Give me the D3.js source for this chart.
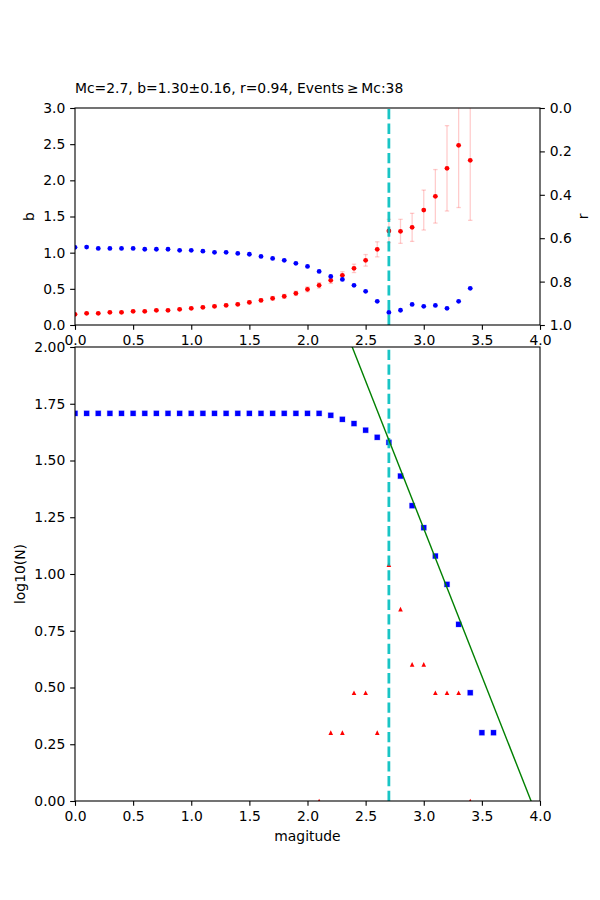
<!DOCTYPE html>
<html><head><meta charset="utf-8">
<script src="https://cdn.jsdelivr.net/npm/d3@7"></script>
<style>
body{margin:0;background:#fff}
svg{display:block}
text{font-family:"DejaVu Sans",sans-serif;font-size:13.9px;fill:#000}
</style>
</head><body><svg id="c" width="600" height="900"></svg>
<script>
// ---------- data ----------
const titleText = "Mc=2.7, b=1.30\u00b10.16, r=0.94, Events\u2009\u2265\u2009Mc:38";
const mc = 2.7;
const magsTop = [0.0,0.1,0.2,0.3,0.4,0.5,0.6,0.7,0.8,0.9,1.0,1.1,1.2,1.3,1.4,1.5,1.6,1.7,1.8,1.9,2.0,2.1,2.2,2.3,2.4,2.5,2.6,2.7,2.8,2.9,3.0,3.1,3.2,3.3,3.4];
const bValues = [0.147,0.161,0.161,0.175,0.175,0.189,0.189,0.203,0.203,0.217,0.230,0.244,0.258,0.272,0.286,0.313,0.341,0.369,0.396,0.438,0.493,0.548,0.618,0.687,0.783,0.894,1.046,1.300,1.295,1.350,1.589,1.779,2.166,2.484,2.277];
const bErrors = [0.010,0.010,0.010,0.011,0.011,0.012,0.012,0.013,0.013,0.014,0.015,0.016,0.017,0.018,0.019,0.021,0.023,0.025,0.027,0.030,0.034,0.038,0.043,0.050,0.058,0.080,0.104,0.160,0.166,0.194,0.276,0.370,0.590,0.860,0.830];
const rValues = [0.642,0.641,0.647,0.647,0.647,0.647,0.651,0.651,0.651,0.656,0.656,0.660,0.665,0.665,0.670,0.674,0.684,0.693,0.702,0.716,0.730,0.753,0.776,0.790,0.817,0.845,0.891,0.942,0.932,0.905,0.914,0.910,0.923,0.891,0.831];

const magsCum = [0.0,0.1,0.2,0.3,0.4,0.5,0.6,0.7,0.8,0.9,1.0,1.1,1.2,1.3,1.4,1.5,1.6,1.7,1.8,1.9,2.0,2.1,2.2,2.3,2.4,2.5,2.6,2.7,2.8,2.9,3.0,3.1,3.2,3.3,3.4,3.5,3.6];
const cumCounts = [51,51,51,51,51,51,51,51,51,51,51,51,51,51,51,51,51,51,51,51,51,51,50,48,46,43,40,38,27,20,16,12,9,6,3,2,2];
const magsInc = [2.1,2.2,2.3,2.4,2.5,2.6,2.7,2.8,2.9,3.0,3.1,3.2,3.3,3.4,3.6];
const incCounts = [1,2,2,3,3,2,11,7,4,4,3,3,3,1,2];
const fitA = 5.10, fitB = 1.30;

const xTicks = [0,0.5,1,1.5,2,2.5,3,3.5,4];
const bTicks = [0,0.5,1,1.5,2,2.5,3];
const rTicks = [0,0.2,0.4,0.6,0.8,1.0];
const nTicks = [0,0.25,0.5,0.75,1,1.25,1.5,1.75,2];

// ---------- layout ----------
const L = 75, R = 540;
const top1 = 108, bot1 = 325;
const top2 = 347, bot2 = 801;
const tickLen = 4.86, tickPad = 4.9;

const svg = d3.select("#c");
const defs = svg.append("defs");
defs.append("clipPath").attr("id","clip1").append("rect").attr("x",L).attr("y",top1).attr("width",R-L).attr("height",bot1-top1);
defs.append("clipPath").attr("id","clip2").append("rect").attr("x",L).attr("y",top2).attr("width",R-L).attr("height",bot2-top2);

const x = d3.scaleLinear().domain([0,4]).range([L,R]);
const yb = d3.scaleLinear().domain([0,3]).range([bot1,top1]);
const yr = d3.scaleLinear().domain([0,1]).range([top1,bot1]);
const yn = d3.scaleLinear().domain([0,2]).range([bot2,top2]);

function styleAxis(g){
  g.select(".domain").remove();
  g.selectAll(".tick line").attr("stroke","#000").attr("stroke-width",1.1);
  g.selectAll(".tick text").style("font-family","DejaVu Sans, sans-serif").style("font-size","13.9px").attr("fill","#000");
}

// ---------- top panel ----------
const p1 = svg.append("g").attr("clip-path","url(#clip1)");
const eb = p1.append("g").attr("stroke","rgba(255,0,0,0.2)").attr("stroke-width",1.3);
magsTop.forEach((m,i)=>{
  const cx = x(m), y0 = yb(bValues[i]-bErrors[i]), y1 = yb(bValues[i]+bErrors[i]);
  eb.append("line").attr("x1",cx).attr("x2",cx).attr("y1",y0).attr("y2",y1);
  eb.append("line").attr("x1",cx-2.2).attr("x2",cx+2.2).attr("y1",y0).attr("y2",y0);
  eb.append("line").attr("x1",cx-2.2).attr("x2",cx+2.2).attr("y1",y1).attr("y2",y1);
});
p1.append("g").selectAll("circle").data(magsTop).join("circle")
  .attr("cx",d=>x(d)).attr("cy",(d,i)=>yb(bValues[i])).attr("r",2.4).attr("fill","#ff0000");
p1.append("line").attr("x1",x(mc)).attr("x2",x(mc)).attr("y1",bot1).attr("y2",top1)
  .attr("stroke","#00bfbf").attr("stroke-opacity",0.9).attr("stroke-width",2.78).attr("stroke-dasharray","10.3,4.4");
p1.append("g").selectAll("circle").data(magsTop).join("circle")
  .attr("cx",d=>x(d)).attr("cy",(d,i)=>yr(rValues[i])).attr("r",2.4).attr("fill","#0000ff");

// ---------- bottom panel ----------
const p2 = svg.append("g").attr("clip-path","url(#clip2)");
p2.append("g").selectAll("path").data(magsInc).join("path")
  .attr("d",(d,i)=>{const cx=x(d), cy=yn(Math.log10(incCounts[i])), s=2.3; return `M${cx},${cy-s}L${cx-s},${cy+s}L${cx+s},${cy+s}Z`;})
  .attr("fill","#ff0000");
p2.append("g").selectAll("rect").data(magsCum).join("rect")
  .attr("x",d=>x(d)-2.6).attr("y",(d,i)=>yn(Math.log10(cumCounts[i]))-2.6).attr("width",5.2).attr("height",5.2)
  .attr("fill","#0000ff").attr("stroke","rgba(0,0,255,0.25)").attr("stroke-width",1);
p2.append("line").attr("x1",x(mc)).attr("x2",x(mc)).attr("y1",bot2).attr("y2",top2)
  .attr("stroke","#00bfbf").attr("stroke-opacity",0.9).attr("stroke-width",2.78).attr("stroke-dasharray","10.3,4.4");
const fitLine = d3.line().x(d=>x(d)).y(d=>yn(fitA - fitB*d));
p2.append("path").datum(x.domain()).attr("d",fitLine).attr("fill","none").attr("stroke","#008000").attr("stroke-width",1.4);

// ---------- frames & axes ----------
[[top1,bot1],[top2,bot2]].forEach(([t,b])=>{
  svg.append("rect").attr("x",L).attr("y",t).attr("width",R-L).attr("height",b-t)
    .attr("fill","none").attr("stroke","#000").attr("stroke-width",1.1);
});
const fmt1 = d3.format(".1f"), fmt2 = d3.format(".2f");
svg.append("g").attr("transform",`translate(0,${bot1})`)
  .call(d3.axisBottom(x).tickValues(xTicks).tickFormat(fmt1).tickSize(tickLen).tickPadding(tickPad)).call(styleAxis);
svg.append("g").attr("transform",`translate(${L},0)`)
  .call(d3.axisLeft(yb).tickValues(bTicks).tickFormat(fmt1).tickSize(tickLen).tickPadding(tickPad)).call(styleAxis);
svg.append("g").attr("transform",`translate(${R},0)`)
  .call(d3.axisRight(yr).tickValues(rTicks).tickFormat(fmt1).tickSize(tickLen).tickPadding(tickPad)).call(styleAxis);
svg.append("g").attr("transform",`translate(0,${bot2})`)
  .call(d3.axisBottom(x).tickValues(xTicks).tickFormat(fmt1).tickSize(tickLen).tickPadding(tickPad)).call(styleAxis);
svg.append("g").attr("transform",`translate(${L},0)`)
  .call(d3.axisLeft(yn).tickValues(nTicks).tickFormat(fmt2).tickSize(tickLen).tickPadding(tickPad)).call(styleAxis);

// ---------- labels ----------
svg.append("text").attr("x",L).attr("y",93).text(titleText);
svg.append("text").attr("transform",`translate(34.3,${(top1+bot1)/2}) rotate(-90)`).attr("text-anchor","middle").text("b");
svg.append("text").attr("transform",`translate(588,${(top1+bot1)/2}) rotate(-90)`).attr("text-anchor","middle").text("r");
svg.append("text").attr("transform",`translate(25.4,${(top2+bot2)/2}) rotate(-90)`).attr("text-anchor","middle").text("log10(N)");
svg.append("text").attr("x",(L+R)/2).attr("y",840.5).attr("text-anchor","middle").text("magitude");
</script></body></html>
